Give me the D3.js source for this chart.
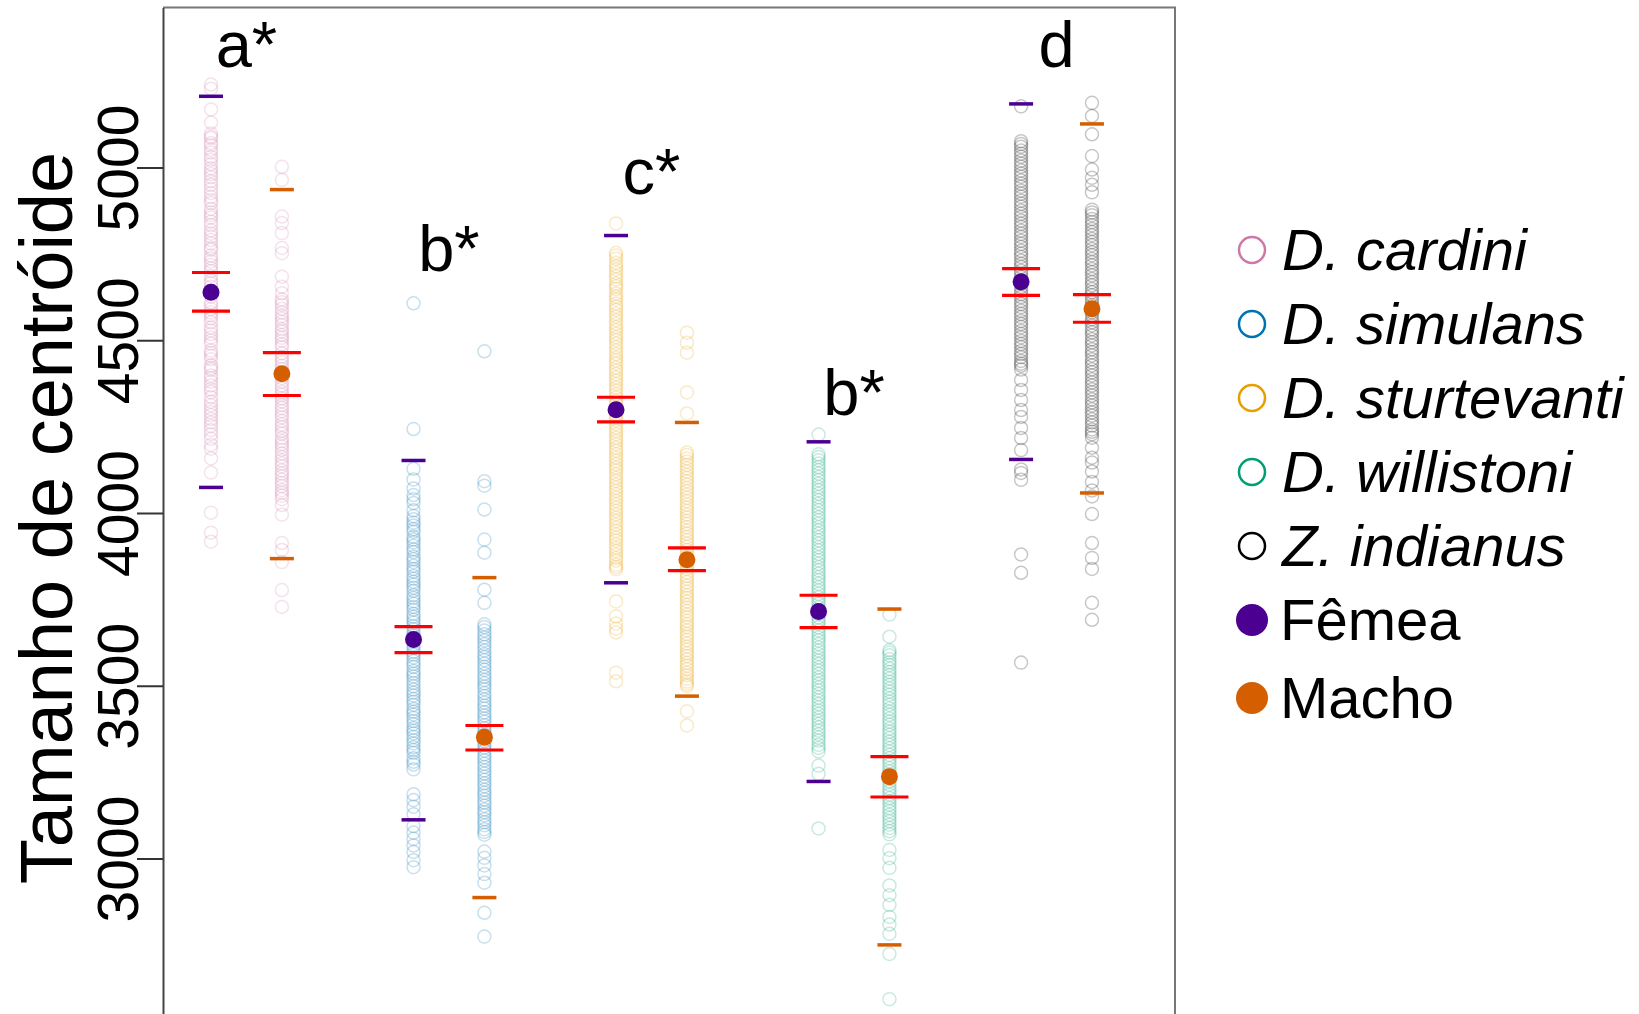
<!DOCTYPE html>
<html>
<head>
<meta charset="utf-8">
<script src="https://cdn.jsdelivr.net/npm/d3@7"></script>
<style>
  body { margin: 0; background: #fff; }
  svg { display: block; font-family: "Liberation Sans", Arial, sans-serif; }
</style>
</head>
<body>
<div id="chart"></div>
<script>
'use strict';

// species, colours and labels
const species = ["D. cardini", "D. simulans", "D. sturtevanti", "D. willistoni", "Z. indianus"];
const speciesColors = ["#CC79A7", "#0072B2", "#E69F00", "#009E73", "#000000"];
const sexes = ["Fêmea", "Macho"];
const sexColors = ["#4B0092", "#D55E00"];
const groupLetters = ["a*", "b*", "c*", "b*", "d"];
const letterValue = [5290, 4699, 4922, 4285, 5292];
const yTicks = [3000, 3500, 4000, 4500, 5000];

// summary per species: [female, male]
const means = [[4639, 4403], [3634, 3351], [4299, 3865], [3715, 3237], [4669, 4591]];
const seHigh = [[4696, 4464], [3671, 3385], [4335, 3899], [3762, 3295], [4707, 4632]];
const seLow = [[4584, 4340], [3596, 3314], [4264, 3833], [3668, 3178], [4630, 4552]];
const qHigh = [[5206, 4936], [4152, 3813], [4803, 4262], [4206, 3722], [5184, 5126]];
const qLow = [[4074, 3868], [3112, 2887], [3798, 3470], [3223, 2750], [4155, 4058]];

// individual centroid sizes
const cardiniF = [5240, 5228, 5168, 5130, 5098, 5085, 5071, 5052, 5043, 5031, 5010, 4998, 4981, 4972, 4950, 4938,
  4926, 4905, 4897, 4880, 4862, 4855, 4833, 4818, 4809, 4790, 4768, 4762, 4745, 4728, 4718, 4700, 4686, 4673,
  4655, 4644, 4627, 4609, 4600, 4580, 4563, 4552, 4537, 4518, 4508, 4490, 4470, 4463, 4445, 4427, 4414, 4398,
  4380, 4369, 4350, 4335, 4322, 4301, 4292, 4272, 4252, 4240, 4215, 4186, 4158, 4117, 4001, 3943, 3917,
  5090, 5064, 5022, 4990, 4960, 4915, 4870, 4843, 4800, 4780, 4737, 4708, 4665, 4634, 4590, 4572, 4528, 4499,
  4455, 4420, 4390, 4358, 4312, 4283, 4262, 4228, 4197];
const cardiniM = [5002, 4964, 4858, 4839, 4810, 4767, 4752, 4684, 4655, 4636, 4618, 4602, 4591, 4570, 4553, 4544,
  4525, 4507, 4499, 4480, 4462, 4452, 4436, 4417, 4405, 4390, 4369, 4360, 4342, 4323, 4312, 4295, 4277, 4266,
  4248, 4230, 4217, 4200, 4183, 4172, 4152, 4135, 4123, 4106, 4087, 4078, 4058, 4040, 4023, 3995, 3913, 3893,
  3858, 3777, 3728,
  4610, 4580, 4562, 4532, 4515, 4488, 4444, 4426, 4380, 4350, 4332, 4304, 4285, 4256, 4238, 4208, 4192, 4162,
  4143, 4114, 4096, 4066, 4050];
const simulansF = [4607, 4243, 4128, 4097, 4071, 4052, 4029, 4008, 3991, 3972, 3964, 3946, 3931, 3915, 3905, 3887,
  3874, 3858, 3847, 3830, 3818, 3801, 3793, 3775, 3762, 3745, 3737, 3720, 3708, 3691, 3683, 3664, 3652, 3637,
  3628, 3609, 3598, 3582, 3572, 3555, 3543, 3527, 3518, 3499, 3489, 3472, 3462, 3445, 3433, 3417, 3407, 3389,
  3378, 3362, 3352, 3333, 3322, 3306, 3290, 3272, 3258, 3186, 3169, 3150, 3128, 3094, 3075, 3057, 3038, 3019,
  2995, 2975,
  4040, 3982, 3953, 3923, 3895, 3866, 3838, 3810, 3784, 3754, 3728, 3700, 3673, 3645, 3618, 3590, 3563, 3535,
  3508, 3480, 3454, 3425, 3398, 3370, 3342, 3314, 3280];
const simulansM = [4468, 4092, 4079, 4010, 3923, 3885, 3778, 3740, 3678, 3660, 3649, 3631, 3621, 3602, 3591, 3574,
  3564, 3546, 3535, 3517, 3507, 3490, 3479, 3460, 3451, 3434, 3423, 3405, 3396, 3377, 3368, 3350, 3340, 3321,
  3312, 3293, 3284, 3265, 3255, 3237, 3228, 3209, 3199, 3182, 3171, 3153, 3142, 3125, 3114, 3096, 3085, 3069,
  3020, 3002, 2980, 2955, 2930, 2843, 2774,
  3670, 3640, 3612, 3583, 3555, 3526, 3498, 3470, 3442, 3414, 3386, 3359, 3331, 3302, 3274, 3246, 3218, 3190,
  3162, 3134, 3105, 3077];
const sturtevantiF = [4838, 4753, 4736, 4724, 4705, 4695, 4676, 4664, 4648, 4635, 4618, 4606, 4588, 4577, 4558,
  4548, 4529, 4519, 4500, 4490, 4470, 4460, 4441, 4432, 4412, 4402, 4383, 4373, 4354, 4344, 4325, 4315, 4296,
  4286, 4268, 4257, 4238, 4228, 4209, 4199, 4180, 4170, 4151, 4141, 4123, 4112, 4093, 4083, 4064, 4054, 4035,
  4025, 4006, 3996, 3977, 3967, 3948, 3938, 3920, 3909, 3890, 3880, 3862, 3850, 3837, 3744, 3701, 3680, 3665,
  3654, 3538, 3513,
  4745, 4714, 4685, 4656, 4626, 4597, 4568, 4538, 4509, 4480, 4450, 4421, 4392, 4363, 4334, 4305, 4276, 4247,
  4218, 4189, 4160, 4131, 4102, 4073, 4044, 4015, 3986, 3957, 3928, 3899, 3870, 3843];
const sturtevantiM = [4522, 4493, 4464, 4349, 4288, 4175, 4158, 4149, 4129, 4120, 4101, 4092, 4072, 4063, 4044,
  4034, 4015, 4006, 3987, 3977, 3959, 3949, 3930, 3921, 3902, 3893, 3874, 3866, 3846, 3838, 3818, 3810, 3790,
  3782, 3762, 3754, 3734, 3726, 3706, 3698, 3678, 3670, 3650, 3642, 3622, 3613, 3594, 3586, 3566, 3558, 3538,
  3530, 3512, 3499, 3426, 3385,
  4168, 4139, 4110, 4082, 4053, 4024, 3996, 3968, 3940, 3911, 3883, 3856, 3828, 3800, 3772, 3744, 3716, 3688,
  3660, 3632, 3604, 3576, 3548, 3520, 3505];
const willistoniF = [4227, 4170, 4153, 4143, 4124, 4114, 4095, 4085, 4066, 4056, 4037, 4027, 4008, 3998, 3979,
  3969, 3950, 3940, 3921, 3911, 3892, 3882, 3863, 3853, 3834, 3824, 3805, 3795, 3776, 3766, 3747, 3737, 3718,
  3708, 3689, 3679, 3660, 3650, 3631, 3621, 3602, 3592, 3573, 3563, 3544, 3534, 3515, 3505, 3486, 3476, 3457,
  3447, 3428, 3418, 3399, 3389, 3370, 3360, 3341, 3329, 3310, 3269, 3245, 3087,
  4162, 4133, 4104, 4075, 4046, 4017, 3988, 3959, 3930, 3901, 3872, 3843, 3814, 3785, 3756, 3727, 3698, 3669,
  3640, 3611, 3582, 3553, 3524, 3495, 3466, 3437, 3408, 3379, 3350, 3320];
const willistoniM = [3706, 3642, 3603, 3588, 3577, 3560, 3549, 3531, 3521, 3502, 3492, 3474, 3463, 3445, 3434,
  3416, 3405, 3387, 3376, 3358, 3348, 3329, 3319, 3300, 3290, 3272, 3261, 3243, 3232, 3214, 3203, 3185, 3175,
  3156, 3146, 3127, 3117, 3098, 3088, 3070, 3025, 3001, 2973, 2922, 2894, 2866, 2831, 2809, 2782, 2724, 2593,
  3596, 3568, 3540, 3511, 3483, 3454, 3425, 3396, 3367, 3338, 3310, 3281, 3252, 3223, 3194, 3166, 3137, 3108,
  3079];
const indianusF = [5177, 5076, 5060, 5049, 5031, 5020, 5002, 4991, 4973, 4962, 4944, 4933, 4915, 4904, 4886, 4875,
  4857, 4846, 4828, 4817, 4799, 4788, 4770, 4759, 4741, 4730, 4712, 4701, 4683, 4672, 4654, 4643, 4625, 4614,
  4596, 4585, 4567, 4556, 4538, 4527, 4509, 4498, 4480, 4469, 4451, 4440, 4426, 4415, 4385, 4356, 4327, 4298,
  4278, 4246, 4217, 4182, 4126, 4116, 4096, 3880, 3827, 3567,
  5068, 5040, 5011, 4982, 4953, 4924, 4895, 4866, 4837, 4808, 4779, 4750, 4721, 4692, 4663, 4634, 4605, 4576,
  4547, 4518, 4489, 4460, 4432];
const indianusM = [5187, 5149, 5096, 5033, 4994, 4970, 4950, 4928, 4878, 4862, 4851, 4833, 4822, 4804, 4793, 4775,
  4764, 4746, 4735, 4717, 4706, 4688, 4677, 4659, 4648, 4630, 4619, 4601, 4590, 4572, 4561, 4543, 4532, 4514,
  4503, 4485, 4474, 4456, 4445, 4427, 4416, 4398, 4387, 4369, 4358, 4340, 4329, 4311, 4300, 4282, 4271, 4253,
  4242, 4228, 4218, 4189, 4160, 4146, 4120, 4090, 4065, 4048, 3997, 3913, 3870, 3838, 3740, 3691,
  4870, 4842, 4813, 4784, 4755, 4726, 4697, 4668, 4639, 4610, 4581, 4552, 4523, 4494, 4465, 4436, 4407, 4378,
  4349, 4320, 4291, 4262, 4235];

const points = [[cardiniF, cardiniM], [simulansF, simulansM], [sturtevantiF, sturtevantiM],
  [willistoniF, willistoniM], [indianusF, indianusM]];

const width = 1639, height = 1014;
const plot = {left: 163, right: 1175, top: 7.5, bottom: 1014};
const sexOffset = 0.35;

const svg = d3.select("#chart").append("svg")
    .attr("width", width)
    .attr("height", height);

const x = d3.scaleLinear()
    .domain([0.763, 5.76])
    .range([plot.left, plot.right]);

const y = d3.scaleLinear()
    .domain([2550, 5463])
    .range([plot.bottom, plot.top]);

// individual points, hollow and faint
species.forEach(function(sp, i) {
    sexes.forEach(function(sx, j) {
        const cx = x(i + 1 + j * sexOffset);
        svg.append("g")
            .selectAll("circle")
            .data(points[i][j])
            .join("circle")
            .attr("cx", cx)
            .attr("cy", function(d) { return y(d); })
            .attr("r", 6.5)
            .attr("fill", "none")
            .attr("stroke", speciesColors[i])
            .attr("stroke-opacity", 0.22)
            .attr("stroke-width", 1.5);
    });
});

// quantile ticks, standard error bars and means
species.forEach(function(sp, i) {
    sexes.forEach(function(sx, j) {
        const cx = x(i + 1 + j * sexOffset);
        const g = svg.append("g");
        [qHigh[i][j], qLow[i][j]].forEach(function(v) {
            g.append("line")
                .attr("x1", cx - 12).attr("x2", cx + 12)
                .attr("y1", y(v)).attr("y2", y(v))
                .attr("stroke", sexColors[j])
                .attr("stroke-width", 3.5);
        });
        [seHigh[i][j], seLow[i][j]].forEach(function(v) {
            g.append("line")
                .attr("x1", cx - 19).attr("x2", cx + 19)
                .attr("y1", y(v)).attr("y2", y(v))
                .attr("stroke", "#FF0000")
                .attr("stroke-width", 3.2);
        });
        g.append("circle")
            .attr("cx", cx)
            .attr("cy", y(means[i][j]))
            .attr("r", 8.5)
            .attr("fill", sexColors[j]);
    });
});

// group letters
svg.append("g")
    .selectAll("text")
    .data(groupLetters)
    .join("text")
    .attr("x", function(d, i) { return x(i + 1 + sexOffset / 2); })
    .attr("y", function(d, i) { return y(letterValue[i]); })
    .attr("text-anchor", "middle")
    .attr("font-size", 65)
    .attr("fill", "#000")
    .text(function(d) { return d; });

// box (top and right)
svg.append("path")
    .attr("d", "M" + plot.left + "," + plot.top + "H" + plot.right + "V" + plot.bottom)
    .attr("fill", "none")
    .attr("stroke", "#777")
    .attr("stroke-width", 2);

// y axis
const yAxis = svg.append("g")
    .attr("transform", "translate(" + plot.left + ",0)")
    .call(d3.axisLeft(y).tickValues(yTicks).tickSize(26).tickSizeOuter(0).tickFormat(d3.format("d")));
yAxis.select(".domain").attr("stroke", "#444").attr("stroke-width", 2);
yAxis.selectAll(".tick line").attr("stroke", "#333").attr("stroke-width", 2);
yAxis.selectAll(".tick text")
    .attr("transform", "rotate(-90)")
    .attr("x", 0)
    .attr("y", -25)
    .attr("dy", 0)
    .attr("text-anchor", "middle")
    .attr("font-family", "'Liberation Sans', Arial, sans-serif")
    .attr("font-size", 57)
    .attr("fill", "#000");

svg.append("text")
    .attr("transform", "translate(72,518) rotate(-90)")
    .attr("text-anchor", "middle")
    .attr("font-size", 74)
    .attr("fill", "#000")
    .text("Tamanho de centróide");

// legend
const legendX = 1252, legendTextX = 1282, legendY0 = 250, legendStep = 74;
const legend = svg.append("g");
species.forEach(function(sp, i) {
    const ly = legendY0 + i * legendStep;
    legend.append("circle")
        .attr("cx", legendX).attr("cy", ly).attr("r", 13)
        .attr("fill", "none")
        .attr("stroke", speciesColors[i])
        .attr("stroke-width", 2.5);
    legend.append("text")
        .attr("x", legendTextX).attr("y", ly)
        .attr("dy", "0.35em")
        .attr("font-size", 58)
        .attr("font-style", "italic")
        .text(sp);
});
sexes.forEach(function(sx, j) {
    const ly = legendY0 + (species.length + j) * legendStep + (j ? 4 : 0);
    legend.append("circle")
        .attr("cx", legendX).attr("cy", ly).attr("r", 16)
        .attr("fill", sexColors[j]);
    legend.append("text")
        .attr("x", legendTextX - 2).attr("y", ly)
        .attr("dy", "0.35em")
        .attr("font-size", 58)
        .text(sx);
});
</script>
</body>
</html>
